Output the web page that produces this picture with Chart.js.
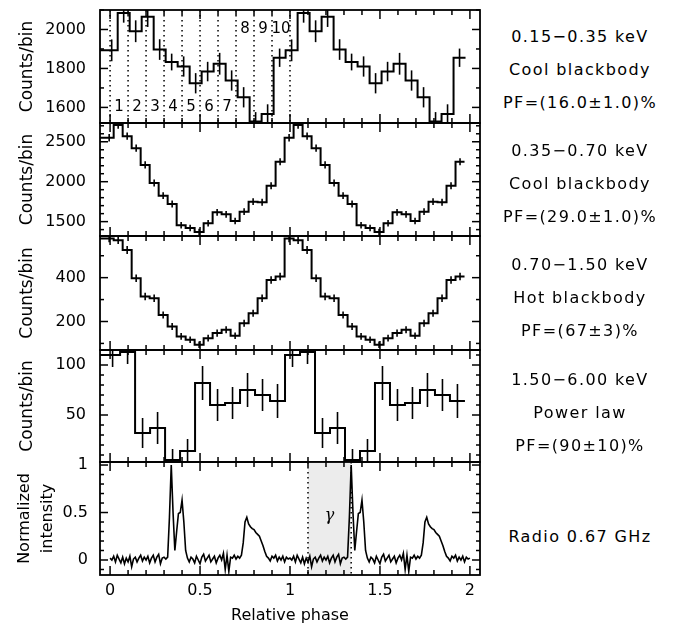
<!DOCTYPE html>
<html>
<head>
<meta charset="utf-8">
<script src="https://cdn.jsdelivr.net/npm/chart.js@4.4.0/dist/chart.umd.min.js"></script>
<style>
  body { margin: 0; background: #fff; }
  #wrap { position: relative; width: 677px; height: 627px; overflow: hidden; }
  #wrap canvas { position: absolute; left: 0; }
  .band { position: absolute; left: 490px; width: 180px; text-align: center;
          font: 16px "DejaVu Sans"; letter-spacing: 1.4px; line-height: 33px; color: #000; white-space: nowrap; }
</style>
</head>
<body>
<div id="wrap"></div>
<script>
// phase axis
const X_MIN = -0.056, X_MAX = 2.056;
const xTickValues = [0, 0.5, 1, 1.5, 2];
const xTickLabels = ['0', '0.5', '1', '1.5', '2'];

// 0.15-0.35 keV, 15 bins per cycle
const band1Counts = [1893, 2085, 1991, 2065, 1897, 1833, 1810, 1724, 1784, 1824, 1738, 1652, 1528, 1566, 1855];
const band1Errors = [56, 50, 56, 52, 53, 43, 52, 52, 50, 56, 52, 52, 48, 50, 47];
const band1FirstCentre = 0.009;

// 0.35-0.70 keV, 20 bins per cycle
const band2Counts = [2710, 2570, 2420, 2210, 1985, 1825, 1720, 1455, 1420, 1370,
                     1479, 1617, 1592, 1508, 1625, 1750, 1742, 1950, 2250, 2550];
const band2Errors = [46, 46, 45, 45, 44, 43, 43, 41, 41, 40, 41, 42, 42, 41, 42, 43, 43, 44, 45, 46];
const band2FirstCentre = 0.045;

// 0.70-1.50 keV, 20 bins per cycle
const band3Counts = [571, 526, 397, 314, 306, 230, 177, 132, 117, 94,
                     124, 147, 162, 135, 192, 238, 306, 389, 405, 579];
const band3Errors = [18, 18, 17, 17, 17, 16, 16, 15, 15, 15, 15, 16, 16, 15, 16, 16, 17, 17, 17, 18];
const band3FirstCentre = 0.045;

// 1.50-6.00 keV, 12 bins per cycle
const band4Counts = [110, 113, 32, 37, 5, 14, 82, 60, 62, 75, 70, 64];
const band4Errors = [12, 12, 15, 16, 11, 12, 17, 16, 16, 17, 16, 17];
const band4FirstCentre = 0.014;

// radio 0.67 GHz, one cycle sampled every 0.01 in phase
const radioIntensity = [
  0.02, 0.00, 0.04, -0.02, 0.05, 0.01, -0.03, 0.03, -0.04, 0.02,
  -0.02, 0.04, -0.07, 0.01, 0.03, -0.02, 0.02, 0.05, -0.01, 0.03,
  0.00, 0.04, -0.03, 0.02, 0.05, -0.02, 0.03, 0.06, -0.04, 0.02,
  0.03, 0.01, 0.03, 0.45, 1.00, 0.50, 0.10, 0.30, 0.49, 0.50,
  0.63, 0.40, 0.10, 0.02, -0.02, 0.03, 0.01, -0.03, 0.04, 0.00,
  -0.04, 0.03, 0.06, -0.01, 0.02, 0.05, -0.02, 0.01, 0.04, -0.03,
  0.02, 0.05, 0.00, 0.07, -0.10, 0.05, -0.12, 0.03, 0.02, 0.05,
  0.01, 0.04, 0.02, 0.05, 0.18, 0.40, 0.45, 0.38, 0.35, 0.33,
  0.32, 0.29, 0.27, 0.25, 0.20, 0.15, 0.09, 0.04, 0.02, -0.01,
  0.04, 0.02, 0.05, -0.01, 0.03, 0.00, 0.04, -0.02, 0.03, 0.01
];
const radioStep = 0.01;

// phase divisions in the soft band, gamma-ray window in the radio panel
const divisionPhases = [0, 0.1, 0.2, 0.3, 0.4, 0.5, 0.6, 0.7, 0.8, 0.9, 1.0];
const divisionLabels = ['1', '2', '3', '4', '5', '6', '7', '8', '9', '10'];
const gammaWindow = [1.1, 1.34];

const bandText = [
  ['0.15\u22120.35 keV', 'Cool blackbody', 'PF=(16.0\u00b11.0)%'],
  ['0.35\u22120.70 keV', 'Cool blackbody', 'PF=(29.0\u00b11.0)%'],
  ['0.70\u22121.50 keV', 'Hot blackbody', 'PF=(67\u00b13)%'],
  ['1.50\u22126.00 keV', 'Power law', 'PF=(90\u00b110)%'],
  ['Radio 0.67 GHz']
];

const FONT = 'DejaVu Sans';

function stepPoints(counts, firstCentre, firstBin, lastBin) {
  const n = counts.length, w = 1 / n;
  const pts = [];
  for (let k = firstBin; k <= lastBin; k++) {
    const v = counts[((k % n) + n) % n];
    const c = firstCentre + k * w;
    pts.push({x: k === firstBin ? X_MIN : c - w / 2, y: v});
    pts.push({x: c + w / 2, y: v});
  }
  return pts;
}

function errorPoints(counts, errors, firstCentre, firstBin, lastBin) {
  const n = counts.length;
  const pts = [];
  for (let k = firstBin; k <= lastBin; k++) {
    const i = ((k % n) + n) % n;
    pts.push({x: firstCentre + k / n, y: counts[i], e: errors[i]});
  }
  return pts;
}

function radioPoints() {
  const pts = [];
  for (let c = 0; c < 2; c++) {
    radioIntensity.forEach((v, i) => pts.push({x: c + i * radioStep, y: v}));
  }
  pts.push({x: 2, y: radioIntensity[0]});
  return pts;
}

const panels = [
  { top: 10, bottom: 123, yMin: 1520, yMax: 2100, yTicks: [1600, 1800, 2000], yMinor: 100,
    line: stepPoints(band1Counts, band1FirstCentre, 0, 29),
    errs: errorPoints(band1Counts, band1Errors, band1FirstCentre, 0, 29),
    divisions: true, textTop: 20 },
  { top: 123, bottom: 236, yMin: 1320, yMax: 2735, yTicks: [1500, 2000, 2500], yMinor: 100,
    line: stepPoints(band2Counts, band2FirstCentre, -1, 38),
    errs: errorPoints(band2Counts, band2Errors, band2FirstCentre, -1, 38), textTop: 134 },
  { top: 236, bottom: 350, yMin: 70, yMax: 590, yTicks: [200, 400], yMinor: 100,
    line: stepPoints(band3Counts, band3FirstCentre, -1, 38),
    errs: errorPoints(band3Counts, band3Errors, band3FirstCentre, -1, 38), textTop: 248 },
  { top: 350, bottom: 462, yMin: 3, yMax: 115, yTicks: [50, 100], yMinor: 10,
    line: stepPoints(band4Counts, band4FirstCentre, 0, 23),
    errs: errorPoints(band4Counts, band4Errors, band4FirstCentre, 0, 23), textTop: 363 },
  { top: 462, bottom: 575, yMin: -0.158, yMax: 1.032, yTicks: [0, 0.5, 1], yMinor: 0.1,
    line: radioPoints(), errs: [], gamma: true, last: true, textTop: 520 }
];

function drawLine(ctx, x1, y1, x2, y2) {
  ctx.beginPath();
  ctx.moveTo(x1, y1);
  ctx.lineTo(x2, y2);
  ctx.stroke();
}

function panelPlugin(p) {
  return {
    id: 'panelDecor',
    beforeDatasetsDraw(chart) {
      const ctx = chart.ctx, xs = chart.scales.x, ys = chart.scales.y;
      const {top, bottom} = chart.chartArea;
      ctx.save();
      if (p.gamma) {
        const x1 = xs.getPixelForValue(gammaWindow[0]), x2 = xs.getPixelForValue(gammaWindow[1]);
        ctx.fillStyle = '#ececec';
        ctx.fillRect(x1, top, x2 - x1, bottom - top);
        ctx.strokeStyle = '#000';
        ctx.lineWidth = 1.5;
        ctx.setLineDash([1.5, 3.5]);
        gammaWindow.forEach(g => drawLine(ctx, xs.getPixelForValue(g), top, xs.getPixelForValue(g), bottom));
        ctx.setLineDash([]);
        ctx.fillStyle = '#000';
        ctx.font = 'italic 16px "DejaVu Serif"';
        ctx.textAlign = 'center';
        ctx.textBaseline = 'middle';
        ctx.fillText('\u03b3', xs.getPixelForValue((gammaWindow[0] + gammaWindow[1]) / 2), ys.getPixelForValue(0.46));
      }
      if (p.divisions) {
        ctx.strokeStyle = '#000';
        ctx.lineWidth = 1.5;
        ctx.setLineDash([1.5, 3.5]);
        divisionPhases.forEach(d => drawLine(ctx, xs.getPixelForValue(d), top, xs.getPixelForValue(d), bottom));
        ctx.setLineDash([]);
        ctx.fillStyle = '#000';
        ctx.font = '15px "' + FONT + '"';
        ctx.textAlign = 'center';
        ctx.textBaseline = 'middle';
        divisionLabels.forEach((t, i) => {
          const mid = (divisionPhases[i] + divisionPhases[i + 1]) / 2;
          const yv = i < 7 ? p.yTicks[0] : p.yTicks[2];
          ctx.fillText(t, xs.getPixelForValue(mid), ys.getPixelForValue(yv));
        });
      }
      ctx.restore();
    },
    afterDatasetsDraw(chart) {
      const ctx = chart.ctx, xs = chart.scales.x, ys = chart.scales.y;
      const {left, right, top, bottom} = chart.chartArea;
      ctx.save();
      ctx.strokeStyle = '#000';
      // error bars
      ctx.beginPath();
      ctx.rect(left, top, right - left, bottom - top);
      ctx.clip();
      ctx.lineWidth = 1.6;
      p.errs.forEach(e => {
        const px = xs.getPixelForValue(e.x);
        drawLine(ctx, px, ys.getPixelForValue(e.y - e.e), px, ys.getPixelForValue(e.y + e.e));
      });
      ctx.restore();
      ctx.save();
      ctx.strokeStyle = '#000';
      ctx.lineWidth = 1.5;
      // inward ticks on all four sides
      for (let i = 0; i <= 20; i++) {
        const px = xs.getPixelForValue(i / 10);
        const len = i % 5 === 0 ? 9 : 5;
        drawLine(ctx, px, bottom, px, bottom - len);
        drawLine(ctx, px, top, px, top + len);
      }
      const first = Math.ceil(p.yMin / p.yMinor - 1e-6);
      const lastT = Math.floor(p.yMax / p.yMinor + 1e-6);
      for (let k = first; k <= lastT; k++) {
        const v = k * p.yMinor;
        const py = ys.getPixelForValue(v);
        const major = p.yTicks.some(t => Math.abs(t - v) < p.yMinor / 10);
        const len = major ? 8 : 4;
        drawLine(ctx, left, py, left + len, py);
        drawLine(ctx, right, py, right - len, py);
      }
      ctx.lineWidth = 1.8;
      ctx.strokeRect(left, top, right - left, bottom - top);
      ctx.restore();
    }
  };
}

function noEdgePadding(axis) {
  axis.paddingTop = 0;
  axis.paddingBottom = 0;
  axis.paddingLeft = 0;
  axis.paddingRight = 0;
}

const wrap = document.getElementById('wrap');
const PAD = 10;

panels.forEach((p, idx) => {
  const canvas = document.createElement('canvas');
  const h = p.last ? 627 - (p.top - PAD) : (p.bottom - p.top) + 2 * PAD;
  canvas.width = 490;
  canvas.height = h;
  canvas.style.top = (p.top - PAD) + 'px';
  wrap.appendChild(canvas);

  const datasets = [{
    data: p.line,
    borderColor: '#000',
    borderWidth: p.last ? 1.6 : 2,
    pointRadius: 0,
    tension: 0,
    fill: false
  }];

  new Chart(canvas, {
    type: 'line',
    data: { datasets },
    options: {
      responsive: false,
      animation: false,
      events: [],
      layout: { padding: { top: PAD, right: 10, bottom: p.last ? 0 : PAD, left: 0 } },
      plugins: { legend: { display: false }, tooltip: { enabled: false } },
      scales: {
        x: {
          type: 'linear',
          min: X_MIN,
          max: X_MAX,
          display: !!p.last,
          afterBuildTicks: axis => { axis.ticks = xTickValues.map(v => ({ value: v })); },
          afterFit: axis => { axis.height = p.last ? 52 : 0; noEdgePadding(axis); },
          grid: { display: false, drawTicks: false },
          border: { display: false },
          ticks: {
            padding: 6,
            color: '#000',
            font: { family: FONT, size: 16 },
            maxRotation: 0,
            callback: (v, i) => xTickLabels[i]
          },
          title: {
            display: true,
            text: 'Relative phase',
            color: '#000',
            font: { family: FONT, size: 16 },
            padding: { top: 0, bottom: 2 }
          }
        },
        y: {
          type: 'linear',
          min: p.yMin,
          max: p.yMax,
          afterBuildTicks: axis => { axis.ticks = p.yTicks.map(v => ({ value: v })); },
          afterFit: axis => { axis.width = 100; noEdgePadding(axis); },
          grid: { display: false, drawTicks: false },
          border: { display: false },
          ticks: {
            padding: p.last ? 12 : 14,
            color: '#000',
            font: { family: FONT, size: 16 },
            callback: v => String(v)
          },
          title: {
            display: true,
            text: p.last ? ['Normalized', 'intensity'] : 'Counts/bin',
            color: '#000',
            font: { family: FONT, size: p.last ? 16 : 17, lineHeight: p.last ? 1.4 : 1.2 },
            padding: { top: p.last ? 14 : 17, bottom: 0 }
          }
        }
      }
    },
    plugins: [panelPlugin(p)]
  });

  const txt = document.createElement('div');
  txt.className = 'band';
  txt.style.top = p.textTop + 'px';
  txt.innerHTML = bandText[idx].join('<br>');
  wrap.appendChild(txt);
});
</script>
</body>
</html>
